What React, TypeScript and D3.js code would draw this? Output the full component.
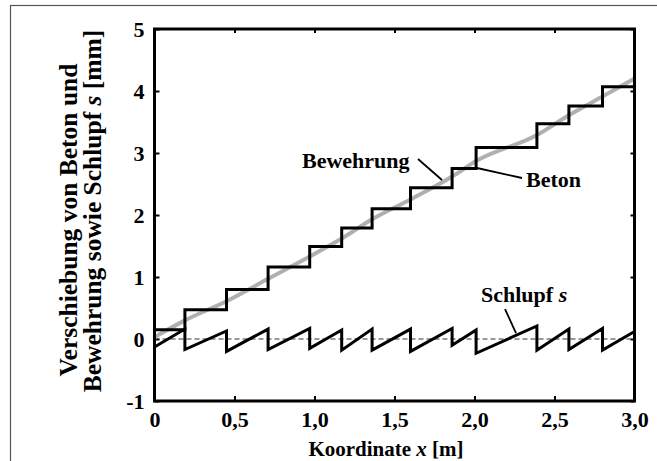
import React, { useEffect, useRef } from 'react';
import * as d3 from 'd3';

// crack positions along x [m] (where the concrete displacement jumps)
const crackX = [0.19, 0.45, 0.71, 0.97, 1.17, 1.36, 1.60, 1.86, 2.01, 2.39, 2.59, 2.80];
// concrete displacement level between cracks [mm]
const betonLevels = [0.15, 0.47, 0.80, 1.16, 1.49, 1.79, 2.10, 2.44, 2.75, 3.09, 3.47, 3.76, 4.07];
// slip at start / end of every segment [mm]
const slipStart = [-0.13, -0.17, -0.20, -0.17, -0.15, -0.18, -0.18, -0.20, -0.10, -0.23, -0.18, -0.17, -0.18];
const slipEnd = [0.16, 0.13, 0.16, 0.17, 0.145, 0.16, 0.16, 0.17, 0.145, 0.21, 0.16, 0.17, 0.12];
// reinforcement displacement (grey line)
const bewehrungX = [0, 0.19, 0.45, 0.71, 0.97, 1.17, 1.36, 1.60, 1.86, 2.01, 2.39, 2.59, 2.80, 3.0];
const bewehrungY = [0.03, 0.30, 0.61, 0.97, 1.33, 1.62, 1.93, 2.25, 2.62, 2.87, 3.29, 3.61, 3.91, 4.20];

const xTicks = [0, 0.5, 1.0, 1.5, 2.0, 2.5, 3.0];
const yTicks = [-1, 0, 1, 2, 3, 4, 5];

const W = 657;
const H = 461;
const FONT = '"Liberation Serif", "Times New Roman", serif';

const App = () => {
  const ref = useRef<SVGSVGElement | null>(null);

  useEffect(() => {
    if (!ref.current) return;
    const svg = d3.select(ref.current);
    svg.selectAll('*').remove();

    const x = d3.scaleLinear().domain([0, 3]).range([154.5, 634.5]);
    const y = d3.scaleLinear().domain([-1, 5]).range([401, 29]);

    // outer frame
    svg.append('rect')
      .attr('x', 10.5).attr('y', 5.5)
      .attr('width', 700).attr('height', 500)
      .attr('fill', 'none').attr('stroke', '#555').attr('stroke-width', 1.2);

    const fmt = (d: number) => (d === 0 ? '0' : d3.format('.1f')(d).replace('.', ','));

    const styleAxis = (g: d3.Selection<SVGGElement, unknown, null, undefined>) => {
      g.attr('font-family', FONT).attr('font-size', 22).attr('font-weight', 'bold');
      g.select('.domain').remove();
      g.selectAll('line').attr('stroke', '#000').attr('stroke-width', 2);
      g.selectAll('text').attr('fill', '#000');
    };

    svg.append('g')
      .attr('transform', `translate(0,${y(-1)})`)
      .call(d3.axisBottom(x).tickValues(xTicks).tickSize(-5).tickPadding(10).tickFormat((d) => fmt(+d)))
      .call(styleAxis);
    svg.append('g')
      .attr('transform', `translate(0,${y(5)})`)
      .call(d3.axisTop(x).tickValues(xTicks).tickSize(-4).tickFormat(() => ''))
      .call(styleAxis);
    svg.append('g')
      .attr('transform', `translate(${x(0)},0)`)
      .call(d3.axisLeft(y).tickValues(yTicks).tickSize(-5).tickPadding(10).tickFormat((d) => String(d)))
      .call(styleAxis);
    svg.append('g')
      .attr('transform', `translate(${x(3)},0)`)
      .call(d3.axisRight(y).tickValues(yTicks).tickSize(-4).tickFormat(() => ''))
      .call(styleAxis);

    // zero line
    svg.append('line')
      .attr('x1', x(0)).attr('x2', x(3))
      .attr('y1', y(0)).attr('y2', y(0))
      .attr('stroke', '#333').attr('stroke-width', 1).attr('stroke-dasharray', '5,3');

    // Bewehrung (grey)
    const bew = bewehrungX.map((v, i) => [v, bewehrungY[i]] as [number, number]);
    svg.append('path')
      .datum(bew)
      .attr('d', d3.line<[number, number]>().x((d) => x(d[0])).y((d) => y(d[1])).curve(d3.curveMonotoneX))
      .attr('fill', 'none').attr('stroke', '#b0b0b0').attr('stroke-width', 4);

    // Beton (black steps)
    const bx = [0, ...crackX, 3.0];
    const beton = bx.map((v, i) => [v, betonLevels[Math.min(i, betonLevels.length - 1)]] as [number, number]);
    svg.append('path')
      .datum(beton)
      .attr('d', d3.line<[number, number]>().x((d) => x(d[0])).y((d) => y(d[1])).curve(d3.curveStepAfter))
      .attr('fill', 'none').attr('stroke', '#000').attr('stroke-width', 3);

    // Schlupf (sawtooth)
    const slip: [number, number][] = [];
    slipStart.forEach((s, i) => {
      slip.push([bx[i], s]);
      slip.push([bx[i + 1], slipEnd[i]]);
    });
    svg.append('path')
      .datum(slip)
      .attr('d', d3.line<[number, number]>().x((d) => x(d[0])).y((d) => y(d[1])))
      .attr('fill', 'none').attr('stroke', '#000').attr('stroke-width', 3);

    // axis box
    svg.append('rect')
      .attr('x', x(0)).attr('y', y(5))
      .attr('width', x(3) - x(0)).attr('height', y(-1) - y(5))
      .attr('fill', 'none').attr('stroke', '#000').attr('stroke-width', 3);

    // annotations
    const label = (tx: number, ty: number, parts: [string, boolean][], size = 22, anchor = 'start') => {
      const t = svg.append('text')
        .attr('x', tx).attr('y', ty)
        .attr('font-family', FONT).attr('font-size', size).attr('font-weight', 'bold')
        .attr('text-anchor', anchor).attr('fill', '#000');
      parts.forEach(([s, it]) => t.append('tspan').attr('font-style', it ? 'italic' : 'normal').text(s));
      return t;
    };
    const leader = (x1: number, y1: number, x2: number, y2: number) =>
      svg.append('line').attr('x1', x1).attr('y1', y1).attr('x2', x2).attr('y2', y2)
        .attr('stroke', '#000').attr('stroke-width', 1.8);

    label(302, 168, [['Bewehrung', false]]);
    leader(418, 159, 442, 180);
    label(526, 187, [['Beton', false]]);
    leader(477, 168, 522, 178);
    label(481, 302, [['Schlupf ', false], ['s', true]]);
    leader(505, 309, 516, 333);

    // axis titles
    label(386, 456, [['Koordinate ', false], ['x', true], [' [m]', false]], 21, 'middle');
    label(0, 0, [['Verschiebung von Beton und', false]], 25.5, 'middle')
      .attr('transform', 'translate(77,220) rotate(-90)');
    label(0, 0, [['Bewehrung sowie Schlupf ', false], ['s', true], [' [mm]', false]], 25.5, 'middle')
      .attr('transform', 'translate(101,211) rotate(-90)');
  }, []);

  return (
    <svg
      ref={ref}
      width={W}
      height={H}
      style={{ position: 'absolute', left: 0, top: 0, background: '#fff' }}
    />
  );
};

export default App;
